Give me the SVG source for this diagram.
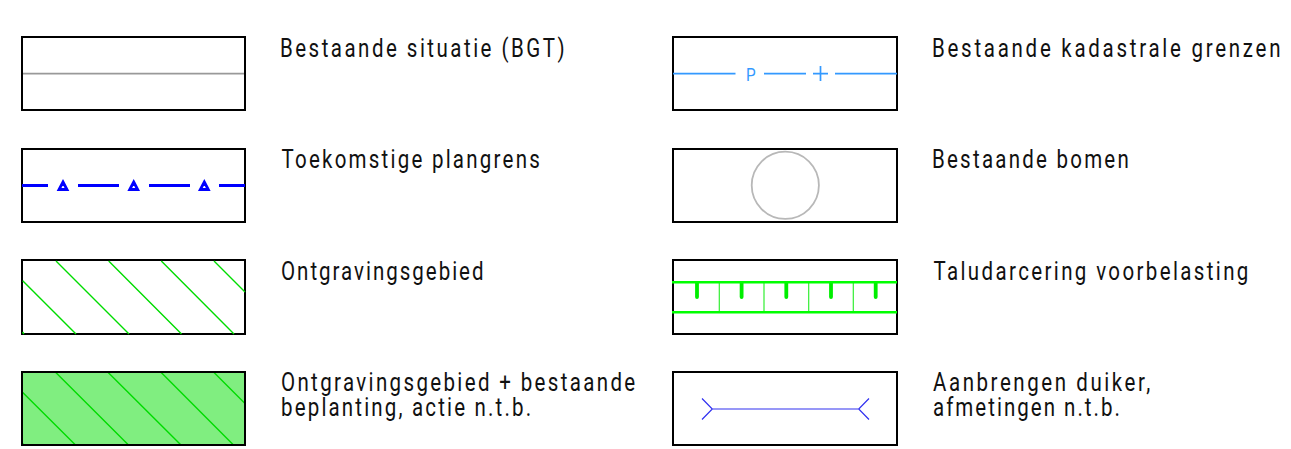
<svg xmlns="http://www.w3.org/2000/svg" width="1291" height="449" viewBox="0 0 1291 449">
<style>
.box{fill:none;stroke:#000;stroke-width:2}
.t{font-family:"Roboto","Liberation Sans",sans-serif;font-weight:400;font-size:25px;fill:#111}
.h{stroke:#00dc00;stroke-width:1.4;fill:none}
.pb{stroke:#0000ff;stroke-width:2.8;fill:none}
.cad{stroke:#3399ff;stroke-width:1.7;fill:none}
.gt{stroke:#00ff00;stroke-width:2.6;fill:none}
.gs{stroke:#33ee33;stroke-width:1.2;fill:none}
.gk{stroke:#00ee00;stroke-width:3.8;stroke-linecap:round;fill:none}
</style>
<rect width="1291" height="449" fill="#fff"/>
<g id="bgt">
<line x1="22" y1="73.7" x2="245" y2="73.7" stroke="#999" stroke-width="1.8"/>
<rect class="box" x="22" y="37" width="223" height="73"/>
<text class="t" transform="translate(280 57) scale(.82 1)" textLength="347">Bestaande situatie (BGT)</text>
</g>
<g id="plangrens">
<rect class="box" x="22" y="149" width="223" height="73"/>
<path class="pb" d="M22 185.5H48M78 185.5H119M149 185.5H190M219 185.5H245"/>
<path class="pb" d="M63 182L67 189.5H59ZM133.7 182L137.7 189.5H129.7ZM204.3 182L208.3 189.5H200.3Z"/>
<text class="t" transform="translate(281.5 168) scale(.82 1)" textLength="315">Toekomstige plangrens</text>
</g>
<g id="ontgraving">
<rect class="box" x="22" y="260" width="223" height="74"/>
<path class="h" d="M22.7 280.7L76 334M56 261L129 334M108.7 261L181.5 334M161.3 261L234 334M214 261L245 292M22.5 332L24 334"/>
<text class="t" transform="translate(281 280) scale(.82 1)" textLength="247">Ontgravingsgebied</text>
</g>
<g id="ontgraving-beplanting">
<rect x="22" y="372" width="223" height="73" fill="#80ee80"/>
<path class="h" d="M22 391.7L76 445.5M55.3 372L129 445.5M107.7 372L181.5 445.5M160.7 372L234 445.5M213.5 372L245 403.5M22.5 443.5L24.5 445.5"/>
<rect class="box" x="22" y="372" width="223" height="73"/>
<text class="t" transform="translate(281 390.5) scale(.82 1)" textLength="432">Ontgravingsgebied + bestaande</text>
<text class="t" transform="translate(281 415.5) scale(.82 1)" textLength="305">beplanting, actie n.t.b.</text>
</g>
<g id="kadaster">
<rect class="box" x="673" y="37" width="224" height="73"/>
<path class="cad" d="M673 73.7H735.5M764 73.7H806M835 73.7H897M813 73.7H828M820.5 66V81"/>
<text transform="translate(746 80.7) scale(.85 1)" font-family="Roboto,sans-serif" font-weight="400" font-size="18" fill="#3399ff">P</text>
<text class="t" transform="translate(932 57) scale(.82 1)" textLength="425">Bestaande kadastrale grenzen</text>
</g>
<g id="bomen">
<rect class="box" x="673" y="149" width="224" height="73"/>
<circle cx="785.3" cy="185.3" r="33.6" fill="none" stroke="#b8b8b8" stroke-width="1.8"/>
<text class="t" transform="translate(932 168) scale(.82 1)" textLength="240">Bestaande bomen</text>
</g>
<g id="talud">
<rect class="box" x="673" y="260" width="224" height="74"/>
<path class="gs" d="M719.3 282V312M764 282V312M808.7 282V312M853.3 282V312"/>
<path class="gk" d="M697 283V297M741.6 283V297M786.3 283V297M831 283V297M875.7 283V297"/>
<path class="gt" d="M672 282.3H897M672 312.2H897"/>
<text class="t" transform="translate(933.5 280) scale(.82 1)" textLength="384">Taludarcering voorbelasting</text>
</g>
<g id="duiker">
<rect class="box" x="673" y="372" width="224" height="73"/>
<path d="M702 398.5L712.3 409L702 419.5M712.3 409H858.7M869 398.5L858.7 409L869 419.5" fill="none" stroke="#3030f0" stroke-width="1.2"/>
<text class="t" transform="translate(933 390.5) scale(.82 1)" textLength="265">Aanbrengen duiker,</text>
<text class="t" transform="translate(933 415.5) scale(.82 1)" textLength="228">afmetingen n.t.b.</text>
</g>
<g id="connectors"/>
</svg>
